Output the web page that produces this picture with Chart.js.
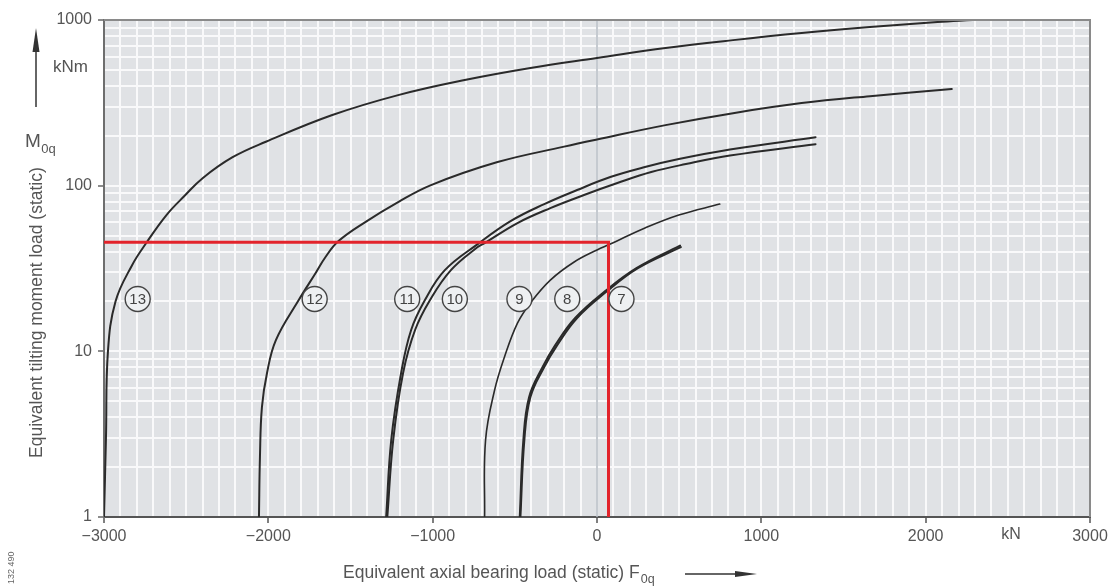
<!DOCTYPE html>
<html>
<head>
<meta charset="utf-8">
<script src="https://cdn.jsdelivr.net/npm/chart.js@4/dist/chart.umd.min.js"></script>
<style>
html,body{margin:0;padding:0;background:#ffffff;}
#wrap{width:1119px;height:586px;position:relative;}
</style>
</head>
<body>
<div id="wrap"><canvas id="c" width="1119" height="586"></canvas></div>
<script>
// ---- tick labels ----
const xTickLabels = [-3000, -2000, -1000, 0, 1000, 2000, 3000];
const yTickLabels = [1, 10, 100, 1000];

// ---- curves (x: axial load kN, y: tilting moment kNm) ----
const curve13X = [-3000, -2988, -2976, -2930, -2830, -2742, -2620, -2505, -2400, -2220, -2015, -1615, -1210, -805, -405, 0, 417, 828, 1245, 1661, 2072, 2284];
const curve13Y = [1, 3, 10, 20, 33, 45.2, 66.5, 87.8, 111, 148, 184, 266, 352, 434, 513, 589, 677, 756, 834, 906, 971, 999];

const curve12X = [-2057, -2051, -2039, -2008, -1954, -1815, -1712, -1652, -1573, -1410, -1210, -1010, -605, -200, 0, 417, 828, 1245, 1661, 2159];
const curve12Y = [1, 2.3, 4.6, 7.4, 11.7, 20.4, 29.7, 37.1, 46.3, 60.3, 79.6, 100.8, 138.8, 172, 190, 232, 274, 315, 347, 383];

const curve11X = [-1283, -1252, -1192, -1131, -1047, -926, -726, -526, -321, -121, 81, 292, 498, 809, 1330];
const curve11Y = [1, 2.92, 7.4, 13.45, 20.4, 30.9, 44.4, 61.1, 77.4, 94.1, 112.7, 129.5, 144.7, 165.2, 196];

const curve10X = [-1276, -1240, -1180, -1107, -1016, -889, -726, -684, -484, -284, -79, 124, 330, 541, 809, 1330];
const curve10Y = [1, 2.92, 7.4, 13.45, 20.4, 30.9, 42.6, 45, 59.5, 73.2, 87.8, 103.7, 120.8, 135, 152, 178];

const curve9X = [-684, -678, -623, -563, -484, -405, -284, -139, 0, 81, 292, 498, 747];
const curve9Y = [1, 2.92, 5.84, 9.24, 14.8, 19.6, 26.9, 34.6, 40.9, 44.4, 55.5, 66.5, 77.4];

const curve8X = [-470, -448, -413, -331, -254, -133, 50, 240, 505];
const curve8Y = [1, 2.92, 5.30, 8.04, 10.9, 15.9, 23.1, 31.8, 43.5];

const curve7X = [-466, -442, -405, -321, -242, -121, 62, 249, 510];
const curve7Y = [1, 2.92, 5.30, 8.04, 10.9, 15.9, 23.1, 31.8, 42.6];

// ---- red example reading line ----
const redX = [-3000, 70, 70];
const redY = [45.5, 45.5, 1];

// ---- circled curve labels ----
const labelNames = ['13', '12', '11', '10', '9', '8', '7'];
const labelX = [-2795, -1718, -1155, -865, -472, -181, 149];
const labelY = [20.7, 20.7, 20.7, 20.7, 20.7, 20.7, 20.7];

// ---- grid positions ----
const xGridValues = [];
for (let v = -3000; v <= 3000; v += 100) xGridValues.push(v);
const yGridValues = [];
[1, 10, 100].forEach(d => { for (let m = 1; m <= 9; m++) yGridValues.push(m * d); });
yGridValues.push(1000);

const FONT = '"Liberation Sans", Arial, Helvetica, sans-serif';
Chart.defaults.font.family = FONT;

function pts(xs, ys) { return xs.map((x, i) => ({ x: x, y: ys[i] })); }
function curve(xs, ys, w) {
  return {
    data: pts(xs, ys), showLine: true, pointRadius: 0, borderColor: '#2a2a2a',
    borderWidth: w || 2, tension: 0.4, fill: false, order: 1,
    borderCapStyle: 'round', borderJoinStyle: 'round'
  };
}

const decor = {
  id: 'decor',
  beforeDraw(chart) {
    const { ctx, chartArea: a } = chart;
    ctx.save();
    ctx.fillStyle = '#e0e2e5';
    ctx.fillRect(a.left, a.top, a.right - a.left, a.bottom - a.top);
    ctx.restore();
  },
  beforeDatasetsDraw(chart) {
    // zero line of the x axis, over the white grid
    const { ctx, chartArea: a } = chart;
    const px = chart.scales.x.getPixelForValue(0);
    ctx.save();
    ctx.strokeStyle = '#b3bac2';
    ctx.lineWidth = 1.5;
    ctx.beginPath(); ctx.moveTo(px, a.top); ctx.lineTo(px, a.bottom); ctx.stroke();
    ctx.restore();
  },
  afterDraw(chart) {
    const { ctx, chartArea: a } = chart;
    const xs = chart.scales.x, ys = chart.scales.y;
    ctx.save();
    // frame top and right
    ctx.strokeStyle = '#8a8a8a';
    ctx.lineWidth = 2;
    ctx.beginPath();
    ctx.moveTo(a.left, a.top); ctx.lineTo(a.right, a.top); ctx.lineTo(a.right, a.bottom);
    ctx.stroke();

    // circled labels
    ctx.font = '15px ' + FONT;
    ctx.textAlign = 'center';
    ctx.textBaseline = 'middle';
    for (let i = 0; i < labelNames.length; i++) {
      const px = xs.getPixelForValue(labelX[i]);
      const py = ys.getPixelForValue(labelY[i]);
      ctx.beginPath();
      ctx.arc(px, py, 12.5, 0, Math.PI * 2);
      ctx.fillStyle = '#eef0f2';
      ctx.fill();
      ctx.lineWidth = 1.4;
      ctx.strokeStyle = '#444';
      ctx.stroke();
      ctx.fillStyle = '#444';
      ctx.fillText(labelNames[i], px, py + 1);
    }

    // unit kN on the x axis
    ctx.fillStyle = '#555';
    ctx.font = '16px ' + FONT;
    ctx.fillText('kN', xs.getPixelForValue(2520), 535);

    // x axis title
    ctx.textAlign = 'left';
    ctx.textBaseline = 'alphabetic';
    ctx.font = '17.5px ' + FONT;
    const xt = 'Equivalent axial bearing load (static) F';
    ctx.fillText(xt, 343, 578);
    const w = ctx.measureText(xt).width;
    ctx.font = '12.5px ' + FONT;
    ctx.fillText('0q', 343 + w + 1, 583);
    // right arrow
    ctx.strokeStyle = '#333';
    ctx.fillStyle = '#333';
    ctx.lineWidth = 1.5;
    ctx.beginPath(); ctx.moveTo(685, 574); ctx.lineTo(740, 574); ctx.stroke();
    ctx.beginPath(); ctx.moveTo(757, 574); ctx.lineTo(735, 571); ctx.lineTo(735, 577); ctx.closePath(); ctx.fill();

    // up arrow
    ctx.beginPath(); ctx.moveTo(36, 107); ctx.lineTo(36, 48); ctx.stroke();
    ctx.beginPath(); ctx.moveTo(36, 28); ctx.lineTo(32.5, 52); ctx.lineTo(39.5, 52); ctx.closePath(); ctx.fill();

    // kNm and M0q
    ctx.fillStyle = '#555';
    ctx.font = '17px ' + FONT;
    ctx.fillText('kNm', 53, 72);
    ctx.font = '19px ' + FONT;
    ctx.fillText('M', 25, 147);
    const mw = ctx.measureText('M').width;
    ctx.font = '13px ' + FONT;
    ctx.fillText('0q', 25 + mw + 0.5, 153);

    // y axis title (rotated)
    ctx.font = '17.5px ' + FONT;
    ctx.save();
    ctx.translate(37, 458);
    ctx.rotate(-Math.PI / 2);
    ctx.textBaseline = 'middle';
    ctx.fillText('Equivalent tilting moment load (static)', 0, 0);
    ctx.restore();

    // figure number
    ctx.save();
    ctx.translate(12, 584);
    ctx.rotate(-Math.PI / 2);
    ctx.font = '9px ' + FONT;
    ctx.fillStyle = '#666';
    ctx.textBaseline = 'middle';
    ctx.fillText('132 490', 0, 0);
    ctx.restore();

    ctx.restore();
  }
};

new Chart(document.getElementById('c'), {
  type: 'scatter',
  data: {
    datasets: [
      { data: pts(redX, redY), showLine: true, pointRadius: 0, borderColor: '#e2232b', borderWidth: 3, tension: 0, fill: false, order: 0 },
      curve(curve13X, curve13Y),
      curve(curve12X, curve12Y),
      curve(curve11X, curve11Y),
      curve(curve10X, curve10Y),
      curve(curve9X, curve9Y, 1.6),
      curve(curve8X, curve8Y, 2),
      curve(curve7X, curve7Y, 2)
    ]
  },
  options: {
    responsive: false,
    animation: false,
    devicePixelRatio: 1,
    layout: { padding: { top: 20, right: 29, left: 0, bottom: 0 } },
    plugins: { legend: { display: false }, tooltip: { enabled: false } },
    scales: {
      x: {
        type: 'linear', min: -3000, max: 3000,
        afterBuildTicks: s => { s.ticks = xGridValues.map(v => ({ value: v })); },
        afterFit: s => { s.height = 69; },
        ticks: {
          autoSkip: false, maxRotation: 0, minRotation: 0, padding: 4, color: '#555',
          font: { size: 16 },
          callback: v => xTickLabels.includes(v) ? (v < 0 ? '\u2212' + Math.abs(v) : String(v)) : ''
        },
        grid: {
          color: '#f9f9fa', lineWidth: 2,
          drawTicks: true, tickLength: 6, tickWidth: 1.5,
          tickColor: c => (c.tick && xTickLabels.includes(c.tick.value)) ? '#555' : 'rgba(0,0,0,0)'
        },
        border: { display: true, color: '#555', width: 2 }
      },
      y: {
        type: 'logarithmic', min: 1, max: 1000,
        afterBuildTicks: s => { s.ticks = yGridValues.map(v => ({ value: v })); },
        afterFit: s => { s.width = 104; },
        ticks: {
          autoSkip: false, padding: 6, color: '#555', font: { size: 16 },
          callback: v => yTickLabels.includes(v) ? String(v) : ''
        },
        grid: {
          color: '#f9f9fa', lineWidth: 2, drawTicks: true, tickLength: 6, tickWidth: 1.5,
          tickColor: c => (c.tick && yTickLabels.includes(c.tick.value)) ? '#666' : 'rgba(0,0,0,0)'
        },
        border: { display: true, color: '#6e6e6e', width: 2 }
      }
    }
  },
  plugins: [decor]
});
</script>
</body>
</html>
